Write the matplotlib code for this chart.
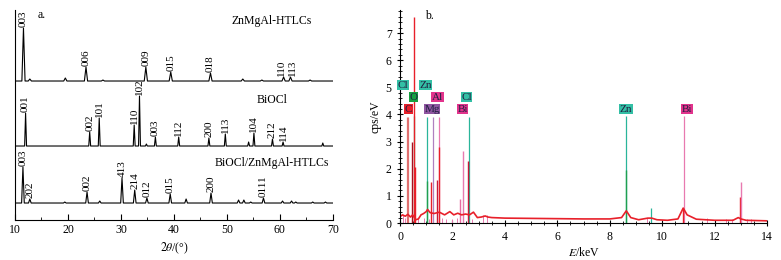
import numpy as np
import matplotlib.pyplot as plt
from matplotlib.ticker import MultipleLocator

plt.rcParams['font.family'] = ['Liberation Serif', 'DejaVu Serif']
plt.rcParams['mathtext.fontset'] = 'stix'

# ---------------- XRD data (a.) ----------------
two_theta_range = (10, 70)

htlc_pos = [11.6, 12.8, 19.5, 23.4, 26.6, 34.7, 39.4, 46.9, 53.0, 56.6, 60.7, 62.0, 65.7]
htlc_h = [53, 2, 3, 14, 1, 14, 9, 8, 2, 1, 4, 4, 1]
htlc_labels = {11.6: '003', 23.4: '006', 34.7: '009', 39.4: '015', 46.9: '018',
               60.7: '110', 62.0: '113'}

bioc_pos = [12.0, 24.1, 25.9, 32.5, 33.5, 34.8, 36.5, 40.9, 46.6, 49.7, 54.1,
            55.1, 58.6, 60.6, 68.1]
bioc_h = [33, 14, 28, 21, 50, 2, 9, 9, 8, 12, 4, 13, 7, 4, 3]
bioc_labels = {12.0: '001', 24.1: '002', 25.9: '101', 32.5: '110', 33.5: '102',
               36.5: '003', 40.9: '112', 46.6: '200', 49.7: '113', 55.1: '104',
               58.6: '212', 60.6: '114'}

comp_pos = [11.5, 12.8, 19.4, 23.6, 26.0, 30.2, 32.6, 34.9, 39.3, 42.3, 47.0,
            52.2, 53.2, 54.5, 56.9, 60.5, 62.2, 63.0, 66.2, 68.6]
comp_h = [36, 4, 1, 11, 2, 25, 13, 5, 9, 4, 10, 3, 3, 1, 5, 2, 2, 1, 1, 1]
comp_labels = {11.5: '003', 12.8: '202', 23.6: '002', 30.2: '413', 32.6: '214',
               34.9: '012', 39.3: '015', 47.0: '200', 56.9: '0111'}

offsets = [139, 74, 17]
names = ['ZnMgAl-HTLCs', 'BiOCl', 'BiOCl/ZnMgAl-HTLCs']
name_y = [199, 120, 57]

# ---------------- EDS data (b.) ----------------
bg_e = [0.02, 0.1, 0.2, 0.3, 0.4, 0.48, 0.6, 0.7, 0.8, 0.9, 1.0, 1.05, 1.15, 1.3,
        1.5, 1.7, 1.9, 2.05, 2.2, 2.35, 2.5, 2.65, 2.8, 2.95, 3.1, 3.25, 3.35,
        3.5, 4.0, 5.0, 6.0, 7.0, 8.0, 8.45, 8.63, 8.8, 9.1, 9.45, 9.6, 9.8,
        10.2, 10.6, 10.8, 10.95, 11.3, 12.0, 12.7, 12.9, 13.0, 13.2, 14.0]
bg_cps = [0.25, 0.3, 0.25, 0.32, 0.22, 0.3, 0.12, 0.15, 0.3, 0.35, 0.42, 0.5, 0.38, 0.35,
          0.4, 0.3, 0.42, 0.3, 0.36, 0.3, 0.33, 0.3, 0.4, 0.2, 0.22, 0.26, 0.22,
          0.2, 0.18, 0.17, 0.16, 0.15, 0.15, 0.2, 0.45, 0.2, 0.12, 0.18, 0.18, 0.12,
          0.1, 0.15, 0.55, 0.3, 0.14, 0.1, 0.1, 0.2, 0.15, 0.1, 0.08]

peak_e = [0.45, 0.52, 0.56, 1.03, 1.2, 1.42, 1.47, 2.28, 2.42, 2.6, 8.6, 10.8, 12.95, 13.0]
peak_cps = [3.0, 7.6, 2.05, 1.55, 1.5, 1.6, 2.8, 0.9, 2.65, 2.3, 1.97, 0.55, 0.95, 1.5]
peak_col = ['#a81020', '#e8202a', '#e8202a', '#1fa050', '#e8202a', '#c81838', '#e8202a',
            '#e86aa0', '#e87ab0', '#c81838', '#1fa050', '#e8202a', '#e8202a', '#e87ab0']

mark_e = [0.26, 0.29, 0.52, 1.01, 1.25, 1.49, 2.62, 8.63, 9.57, 10.84]
mark_h = [3.9, 3.9, 3.95, 3.9, 3.9, 3.9, 3.9, 3.95, 0.55, 3.95]
mark_col = ['#e07070', '#e07070', '#1fa050', '#2ab59a', '#b080c0', '#e87ab0',
            '#2ab59a', '#2ab59a', '#2ab59a', '#e87ab0']

small_e = [0.1, 0.18, 0.68, 0.93, 1.1, 1.6, 1.74, 2.0, 2.16, 2.75, 3.15, 3.3, 9.42,
           11.7, 12.45, 12.65, 13.25, 13.4]
small_h = [0.3, 0.2, 0.2, 0.2, 0.15, 0.2, 0.15, 0.15, 0.18, 0.15, 0.28, 0.28, 0.2,
           0.18, 0.15, 0.15, 0.15, 0.15]

tags = ['Cl', 'Zn', 'O', 'Al', 'Cl', 'C', 'Mg', 'Bi', 'Zn', 'Bi']
tag_e = [0.11, 0.96, 0.5, 1.43, 2.54, 0.33, 1.22, 2.39, 8.62, 10.94]
tag_y = [5.08, 5.08, 4.64, 4.64, 4.64, 4.2, 4.2, 4.2, 4.2, 4.2]
tag_col = ['#33bfa5', '#33bfa5', '#17a040', '#e2338c', '#33bfa5', '#e8202a',
           '#8e55a0', '#e2338c', '#33bfa5', '#e2338c']


def trace(pos, h, base, w):
    xs = [two_theta_range[0]]
    ys = [base]
    for p, hh in zip(pos, h):
        xs += [p - w, p, p + w]
        ys += [base, base + hh, base]
    xs.append(two_theta_range[1])
    ys.append(base)
    return xs, ys


fig = plt.figure(figsize=(7.81, 2.6), dpi=100)
ax1 = fig.add_axes([0.0192, 0.1538, 0.407, 0.8077])
ax2 = fig.add_axes([0.5122, 0.1423, 0.470, 0.819])

# ---- panel a ----
# small nudges so close labels don't collide
label_shift = {(0, 60.7): -0.35, (0, 62.0): 0.35}
data = [(htlc_pos, htlc_h, htlc_labels, 0.3),
        (bioc_pos, bioc_h, bioc_labels, 0.18),
        (comp_pos, comp_h, comp_labels, 0.25)]
for i, ((pos, h, labs, w), base, nm, ny) in enumerate(zip(data, offsets, names, name_y)):
    xs, ys = trace(pos, h, base, w)
    ax1.plot(xs, ys, color='black', lw=0.8)
    for p, hh in zip(pos, h):
        if p in labs:
            ax1.text(p + label_shift.get((i, p), 0), base + hh + 1.5, labs[p],
                     rotation=90, ha='center', va='bottom', fontsize=8)
    ax1.text(58.5, ny, nm, ha='center', va='center', fontsize=8.5)

ax1.set_xlim(*two_theta_range)
ax1.set_ylim(0, 210)
ax1.set_yticks([])
ax1.spines['top'].set_visible(False)
ax1.spines['right'].set_visible(False)
ax1.xaxis.set_major_locator(MultipleLocator(10))
ax1.xaxis.set_minor_locator(MultipleLocator(5))
ax1.tick_params(axis='x', which='both', direction='in', labelsize=8.5, pad=3)
ax1.tick_params(axis='x', which='major', length=4)
ax1.tick_params(axis='x', which='minor', length=2.5)
ax1.set_xlabel(r'$2\theta$/(°)', fontsize=8.5, labelpad=3)
ax1.text(14.2, 205, 'a.', fontsize=8.5, va='center')

# ---- panel b ----
ax2.vlines(small_e, 0, small_h, colors='#e87ab0', lw=0.7)
ax2.vlines(mark_e, 0, mark_h, colors=mark_col, lw=0.9)
ax2.vlines(peak_e, 0, peak_cps, colors=peak_col, lw=1.0)
ax2.plot(bg_e, bg_cps, color='#e8202a', lw=1.2)

for t, e, y, c in zip(tags, tag_e, tag_y, tag_col):
    ax2.text(e, y, t, ha='center', va='center', fontsize=8, color='#202040',
             bbox=dict(boxstyle='square,pad=0.04', fc=c, ec='none'))

ax2.set_xlim(0, 14)
ax2.set_ylim(0, 7.85)
ax2.spines['top'].set_visible(False)
ax2.spines['right'].set_visible(False)
ax2.xaxis.set_major_locator(MultipleLocator(2))
ax2.xaxis.set_minor_locator(MultipleLocator(0.5))
ax2.yaxis.set_major_locator(MultipleLocator(1))
ax2.yaxis.set_minor_locator(MultipleLocator(0.2))
ax2.tick_params(which='both', direction='inout', labelsize=8.5)
ax2.tick_params(which='major', length=5)
ax2.tick_params(which='minor', length=2.5)
ax2.set_xlabel(r'$E$/keV', fontsize=8.5, labelpad=2)
ax2.set_ylabel('cps/eV', fontsize=8.5, labelpad=3)
ax2.text(0.96, 7.63, 'b.', fontsize=8.5, va='center')

fig.savefig('out.png', dpi=100)
